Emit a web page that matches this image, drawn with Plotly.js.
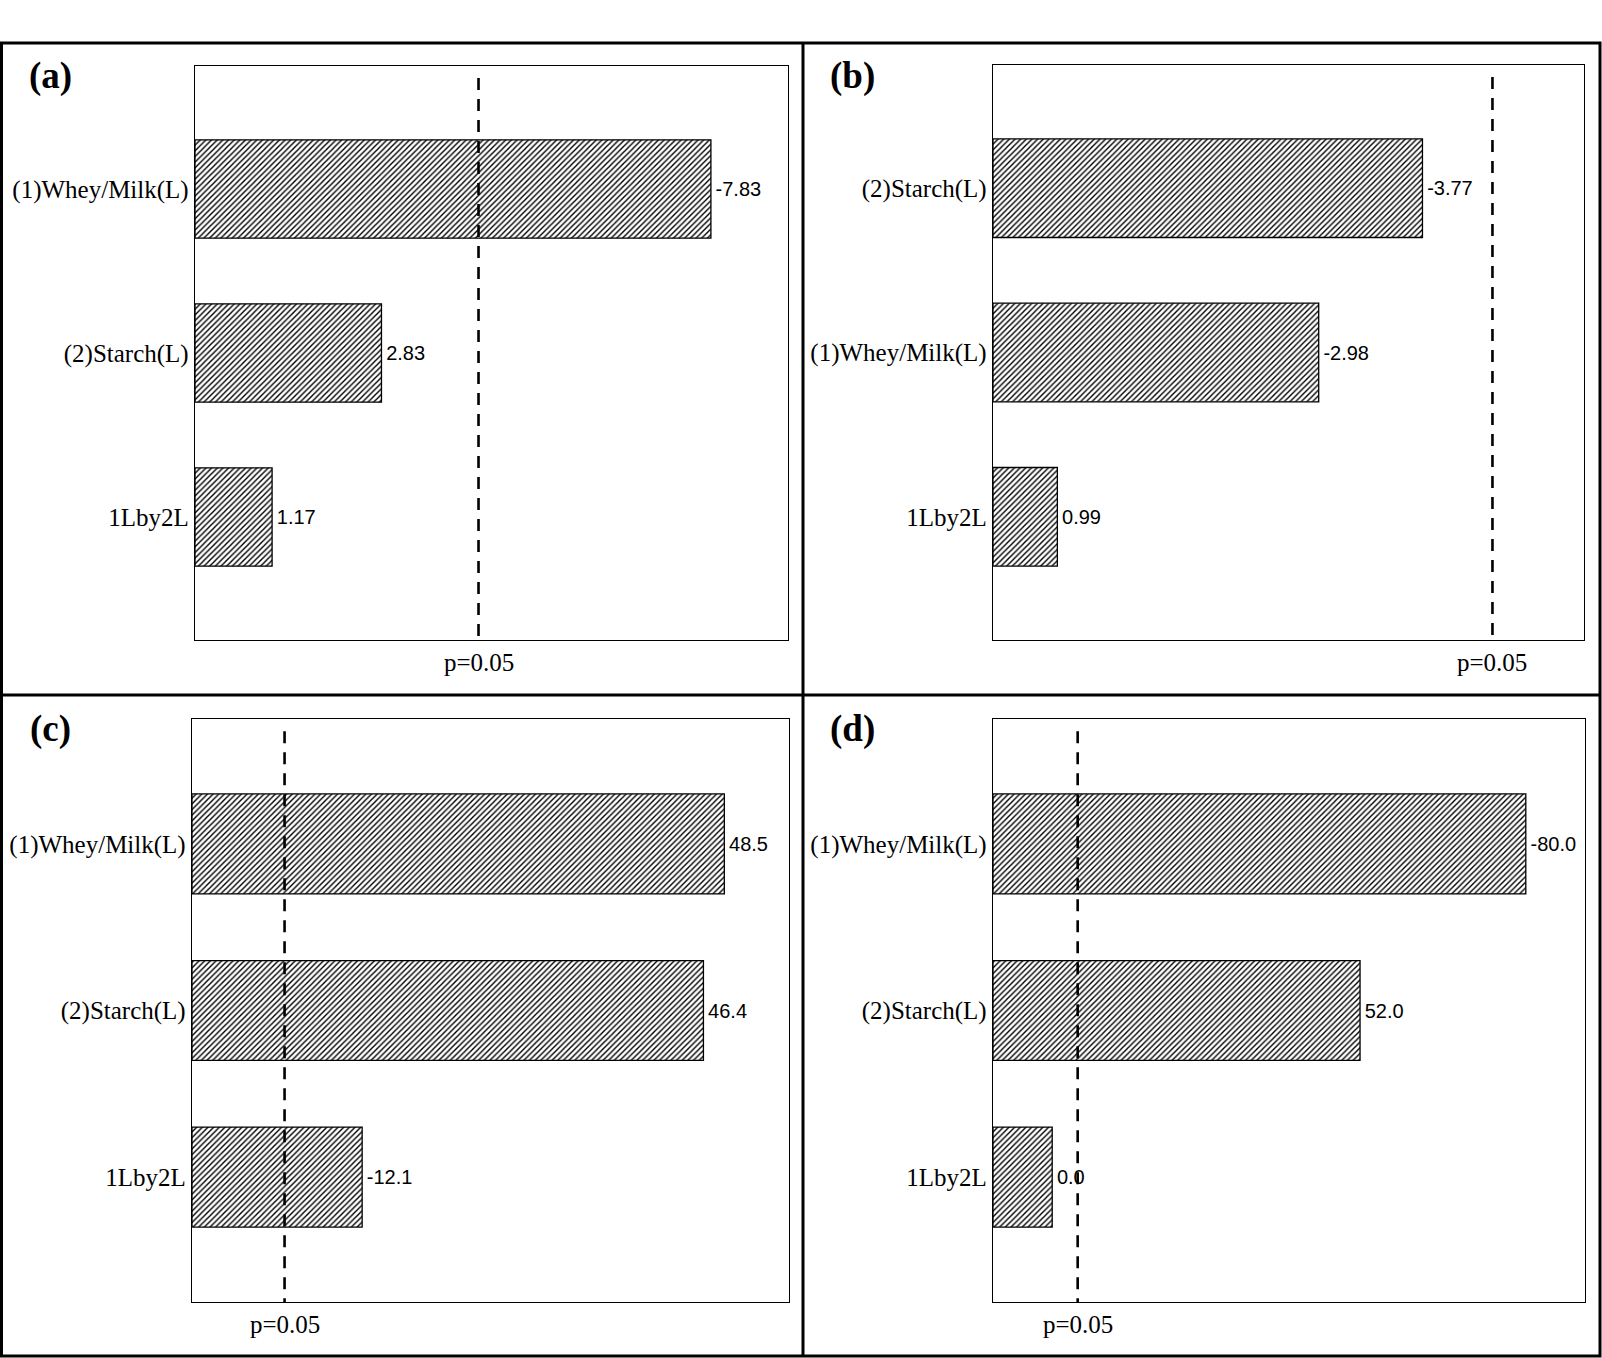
<!DOCTYPE html>
<html>
<head>
<meta charset="utf-8">
<script src="https://cdn.plot.ly/plotly-3.0.1.min.js"></script>
<style>
html, body { margin: 0; padding: 0; background: #fff; }
#chart { width: 1602px; height: 1358px; }
</style>
</head>
<body>
<div id="chart"></div>
<script>
// ---- data ----
const catsA = ['(1)Whey/Milk(L)', '(2)Starch(L)', '1Lby2L'];
const valsA = [-7.83, 2.83, 1.17];
const catsB = ['(2)Starch(L)', '(1)Whey/Milk(L)', '1Lby2L'];
const valsB = [-3.77, -2.98, 0.99];
const catsC = ['(1)Whey/Milk(L)', '(2)Starch(L)', '1Lby2L'];
const valsC = [48.5, 46.4, -12.1];
const catsD = ['(1)Whey/Milk(L)', '(2)Starch(L)', '1Lby2L'];
const valsD = [-80.0, 52.0, 0.0];
const decimals = [2, 2, 1, 1];
const pCrit = 4.303;
const pLabel = 'p=0.05';
const panelLetters = ['(a)', '(b)', '(c)', '(d)'];
const xRanges = [[0, 9], [0.5, 5.0], [-5, 55], [-10, 90]];

// ---- layout geometry (pixels in a 1602x1358 page) ----
const W = 1602, H = 1358;
const px = v => v / W;
const py = v => 1 - v / H;
const boxes = [
  {x0: 195, x1: 788, y0: 66, y1: 640},
  {x0: 993, x1: 1584, y0: 65, y1: 640},
  {x0: 192, x1: 789, y0: 719, y1: 1302},
  {x0: 993, x1: 1585, y0: 719, y1: 1302}
];
const letterPos = [[50, 76], [852, 76], [50, 729], [852, 729]];

const panels = [[catsA, valsA], [catsB, valsB], [catsC, valsC], [catsD, valsD]];

const serif = 'Liberation Serif, Times New Roman, serif';
const sans = 'Liberation Sans, Arial, sans-serif';

const traces = [];
const layout = {
  width: W, height: H,
  margin: {l: 0, r: 0, t: 0, b: 0, pad: 0},
  paper_bgcolor: '#fff', plot_bgcolor: '#fff',
  showlegend: false,
  bargap: 0.4,
  shapes: [], annotations: []
};

panels.forEach(([cats, vals], i) => {
  const n = i === 0 ? '' : String(i + 1);
  const xr = xRanges[i];
  const b = boxes[i];
  traces.push({
    type: 'bar', orientation: 'h',
    xaxis: 'x' + n, yaxis: 'y' + n,
    y: cats,
    x: vals.map(v => Math.abs(v) - xr[0]),
    base: xr[0],
    width: 0.6,
    text: vals.map(v => '\u200A' + v.toFixed(decimals[i])),
    textposition: 'outside',
    cliponaxis: false,
    textfont: {family: sans, size: 20, color: '#000'},
    marker: {
      color: '#fff',
      line: {color: '#000', width: 1.3},
      pattern: {shape: '/', size: 4, solidity: 0.35, fgcolor: '#000', bgcolor: '#fff'}
    },
    hoverinfo: 'skip'
  });
  layout['xaxis' + n] = {
    domain: [px(b.x0), px(b.x1)],
    anchor: 'y' + n,
    range: xr,
    showticklabels: false, ticks: '', showgrid: false, zeroline: false,
    showline: true, mirror: true, linecolor: '#000', linewidth: 1.3,
    fixedrange: true
  };
  layout['yaxis' + n] = {
    domain: [py(b.y1), py(b.y0)],
    anchor: 'x' + n,
    type: 'category',
    range: [2.75, -0.75],
    ticks: '', showgrid: false, zeroline: false,
    showline: true, mirror: true, linecolor: '#000', linewidth: 1.3,
    tickfont: {family: serif, size: 25, color: '#000'},
    ticklabelstandoff: 0,
    fixedrange: true
  };
  // critical value dashed line
  layout.shapes.push({
    type: 'line', layer: 'above',
    xref: 'x' + n, yref: 'y' + n + ' domain',
    x0: pCrit, x1: pCrit, y0: 0.979, y1: 0,
    line: {color: '#000', width: 2.6, dash: '12px,9px'}
  });
  layout.annotations.push({
    xref: 'x' + n, yref: 'y' + n + ' domain',
    x: pCrit, y: 0, yanchor: 'top', xanchor: 'center',
    yshift: -7, showarrow: false,
    text: pLabel,
    font: {family: serif, size: 25, color: '#000'}
  });
  layout.annotations.push({
    xref: 'paper', yref: 'paper',
    x: px(letterPos[i][0]), y: py(letterPos[i][1]),
    xanchor: 'center', yanchor: 'middle', showarrow: false,
    text: '<b>' + panelLetters[i] + '</b>',
    font: {family: serif, size: 37, color: '#000'}
  });
});

// outer frame and dividers
const frameLine = {color: '#000', width: 3};
layout.shapes.push(
  {type: 'rect', xref: 'paper', yref: 'paper', layer: 'above',
   x0: px(1.5), x1: px(1600), y0: py(1356), y1: py(43), line: frameLine},
  {type: 'line', xref: 'paper', yref: 'paper', layer: 'above',
   x0: px(803), x1: px(803), y0: py(1356), y1: py(43), line: frameLine},
  {type: 'line', xref: 'paper', yref: 'paper', layer: 'above',
   x0: px(1.5), x1: px(1600), y0: py(695), y1: py(695), line: frameLine}
);

Plotly.newPlot('chart', traces, layout, {staticPlot: true, displayModeBar: false});
</script>
</body>
</html>
